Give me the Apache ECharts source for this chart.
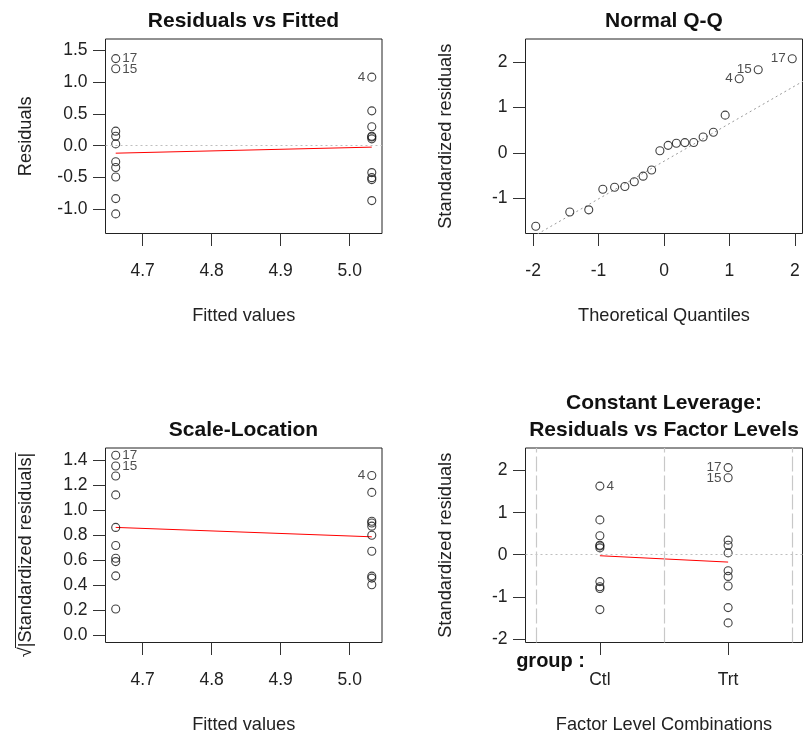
<!DOCTYPE html>
<html><head><meta charset="utf-8">
<script src="https://cdn.jsdelivr.net/npm/echarts@6/dist/echarts.min.js"></script>
<style>html,body{margin:0;padding:0;background:#fff}#c{width:804px;height:736px}</style>
</head><body><div id="c"></div>
<script>
// ---- data (lm diagnostics, 20 observations: Ctl = 1..10, Trt = 11..20) ----
const obsIds = [1,2,3,4,5,6,7,8,9,10,11,12,13,14,15,16,17,18,19,20];
const fittedValues = [5.032,5.032,5.032,5.032,5.032,5.032,5.032,5.032,5.032,5.032,
                      4.661,4.661,4.661,4.661,4.661,4.661,4.661,4.661,4.661,4.661];
const residuals = [-0.862,0.548,0.148,1.078,-0.532,-0.422,0.138,-0.502,0.298,0.108,
                   0.149,-0.491,-0.251,-1.071,1.209,-0.831,1.369,0.229,-0.341,0.029];
const stdResiduals = [-1.305,0.829,0.224,1.632,-0.805,-0.639,0.209,-0.760,0.451,0.163,
                      0.226,-0.743,-0.380,-1.621,1.830,-1.258,2.072,0.347,-0.516,0.044];
const sqrtAbsStdResiduals = [1.142,0.911,0.473,1.277,0.897,0.799,0.457,0.872,0.672,0.404,
                             0.475,0.862,0.616,1.273,1.353,1.122,1.439,0.589,0.718,0.210];
const factorIndex = [0,0,0,0,0,0,0,0,0,0,1,1,1,1,1,1,1,1,1,1];
const factorLevels = ['Ctl','Trt'];
const qqTheoretical = [-1.960,-1.440,-1.150,-0.935,-0.755,-0.598,-0.454,-0.319,-0.189,-0.063,
                       0.063,0.189,0.319,0.454,0.598,0.755,0.935,1.150,1.440,1.960];
const qqSample = [-1.621,-1.305,-1.258,-0.805,-0.760,-0.743,-0.639,-0.516,-0.380,0.044,
                  0.163,0.209,0.224,0.226,0.347,0.451,0.829,1.632,1.830,2.072];
const qqIds = [14,1,16,5,8,12,6,19,13,20,10,7,3,11,18,9,2,4,15,17];
const qqLineX = [-2.2, 2.2];
const qqLineY = [-2.013, 1.639];
const smoothFittedX = [4.661, 5.032];
const smoothResidY = [-0.117, -0.022];
const smoothScaleY = [0.862, 0.787];
const smoothFactorX = [0, 1];
const smoothFactorY = [-0.024, -0.175];
const labeledIds = [17, 15, 4];
const factorBoundaries = [-0.5, 0.5, 1.5];
const ticksFitted = [4.7, 4.8, 4.9, 5.0];
const ticksResid = [-1.0, -0.5, 0.0, 0.5, 1.0, 1.5];
const ticksQQx = [-2, -1, 0, 1, 2];
const ticksStdQQ = [-1, 0, 1, 2];
const ticksSqrt = [0.0, 0.2, 0.4, 0.6, 0.8, 1.0, 1.2, 1.4];
const ticksStdLev = [-2, -1, 0, 1, 2];
const ticksFactor = [0, 1];

// ---- styling / layout ----
const FONT = 'Liberation Sans, Arial, sans-serif';
const TXT = '#222';
const NAME_SIZE = 18.2;
const grids = [
  {left: 105.5, top: 39, width: 276.5, height: 194.5},
  {left: 525.5, top: 39, width: 277, height: 194.5},
  {left: 105.5, top: 448, width: 276.5, height: 194.5},
  {left: 525.5, top: 448, width: 277, height: 194.5}
];
const ranges = {
  x: [[4.6462, 5.0468], [-2.1168, 2.1168], [4.6462, 5.0468], [-0.58, 1.58]],
  y: [[-1.3794, 1.6774], [-1.7798, 2.5078], [-0.0576, 1.4966], [-2.0878, 2.5388]]
};

function xAxis(i, ticks, fmt, name) {
  return {
    type: 'value', gridIndex: i, min: ranges.x[i][0], max: ranges.x[i][1], position: 'bottom',
    axisLine: {show: false, onZero: false},
    axisTick: {show: true, inside: false, length: 12.5, customValues: ticks, lineStyle: {color: '#333', width: 1}},
    axisLabel: {show: true, customValues: ticks, formatter: fmt, margin: 29, color: TXT, fontSize: 17.5, fontFamily: FONT},
    splitLine: {show: false},
    name: name, nameLocation: 'middle', nameGap: 73,
    nameTextStyle: {color: TXT, fontSize: NAME_SIZE, fontFamily: FONT}
  };
}
function yAxis(i, ticks, fmt, name) {
  return {
    type: 'value', gridIndex: i, min: ranges.y[i][0], max: ranges.y[i][1], position: 'left',
    axisLine: {show: false, onZero: false},
    axisTick: {show: true, inside: false, length: 12.5, customValues: ticks, lineStyle: {color: '#333', width: 1}},
    axisLabel: {show: true, customValues: ticks, formatter: fmt, margin: 18, color: TXT, fontSize: 17.5, fontFamily: FONT},
    splitLine: {show: false},
    name: name, nameLocation: 'middle', nameGap: 70.5, nameRotate: 90,
    nameTextStyle: {color: TXT, fontSize: NAME_SIZE, fontFamily: FONT}
  };
}
const f1 = v => Number(v).toFixed(1);
const f0 = v => String(Math.round(v));

function points(xs, ys, ids, panel) {
  const mid = (ranges.x[panel][0] + ranges.x[panel][1]) / 2;
  return ids.map((id, k) => {
    const item = {value: [xs[k], ys[k]]};
    if (labeledIds.indexOf(id) >= 0) {
      item.label = {show: true, formatter: String(id), position: xs[k] < mid ? 'right' : 'left',
        distance: 2, color: TXT, fontSize: 13.5, fontFamily: FONT};
    }
    return item;
  });
}
function scatter(i, data) {
  return {
    type: 'scatter', xAxisIndex: i, yAxisIndex: i, data: data, symbol: 'circle', symbolSize: 8,
    itemStyle: {color: 'rgba(0,0,0,0)', borderColor: '#111', borderWidth: 1.1},
    label: {show: false}, silent: true, animation: false, z: 3
  };
}
function line(i, xs, ys, color, type) {
  return {
    type: 'line', xAxisIndex: i, yAxisIndex: i, data: xs.map((x, k) => [x, ys[k]]),
    showSymbol: false, symbol: 'none', clip: true, silent: true, animation: false,
    lineStyle: {color: color, width: 1, type: type}, z: 2
  };
}
function hRef(i, yv) {
  return {
    type: 'line', xAxisIndex: i, yAxisIndex: i, data: [], silent: true, animation: false,
    markLine: {silent: true, symbol: 'none', animation: false, label: {show: false},
      lineStyle: {color: '#bebebe', width: 1, type: [2, 3]}, data: [{yAxis: yv}]}
  };
}

const option = {
  animation: false,
  backgroundColor: '#fff',
  grid: grids.map(g => Object.assign({show: true, borderColor: '#222', borderWidth: 1, backgroundColor: 'transparent', containLabel: false}, g)),
  xAxis: [
    xAxis(0, ticksFitted, f1, 'Fitted values'),
    xAxis(1, ticksQQx, f0, 'Theoretical Quantiles'),
    xAxis(2, ticksFitted, f1, 'Fitted values'),
    xAxis(3, ticksFactor, v => factorLevels[Math.round(v)], 'Factor Level Combinations')
  ],
  yAxis: [
    yAxis(0, ticksResid, f1, 'Residuals'),
    yAxis(1, ticksStdQQ, f0, 'Standardized residuals'),
    yAxis(2, ticksSqrt, f1, ''),
    yAxis(3, ticksStdLev, f0, 'Standardized residuals')
  ],
  series: [
    // Panel 1: Residuals vs Fitted
    hRef(0, 0),
    line(0, smoothFittedX, smoothResidY, '#ff0000', 'solid'),
    scatter(0, points(fittedValues, residuals, obsIds, 0)),
    // Panel 2: Normal Q-Q
    line(1, qqLineX, qqLineY, '#9a9a9a', [2, 3]),
    scatter(1, points(qqTheoretical, qqSample, qqIds, 1)),
    // Panel 3: Scale-Location
    line(2, smoothFittedX, smoothScaleY, '#ff0000', 'solid'),
    scatter(2, points(fittedValues, sqrtAbsStdResiduals, obsIds, 2)),
    // Panel 4: Constant leverage
    hRef(3, 0),
    {
      type: 'line', xAxisIndex: 3, yAxisIndex: 3, data: [], silent: true, animation: false,
      markLine: {silent: true, symbol: 'none', animation: false, label: {show: false},
        lineStyle: {color: '#c8c8c8', width: 1.2, type: [15, 4]},
        data: factorBoundaries.map(v => ({xAxis: v}))}
    },
    line(3, smoothFactorX, smoothFactorY, '#ff0000', 'solid'),
    scatter(3, points(factorIndex, stdResiduals, obsIds, 3))
  ],
  graphic: [
    {type: 'text', x: 243.5, y: 21, style: {text: 'Residuals vs Fitted', textAlign: 'center', textVerticalAlign: 'middle', font: 'bold 21px ' + FONT, fill: '#111'}},
    {type: 'text', x: 664, y: 21, style: {text: 'Normal Q-Q', textAlign: 'center', textVerticalAlign: 'middle', font: 'bold 21px ' + FONT, fill: '#111'}},
    {type: 'text', x: 243.5, y: 430, style: {text: 'Scale-Location', textAlign: 'center', textVerticalAlign: 'middle', font: 'bold 21px ' + FONT, fill: '#111'}},
    {type: 'text', x: 664, y: 403, style: {text: 'Constant Leverage:', textAlign: 'center', textVerticalAlign: 'middle', font: 'bold 21px ' + FONT, fill: '#111'}},
    {type: 'text', x: 664, y: 430, style: {text: 'Residuals vs Factor Levels', textAlign: 'center', textVerticalAlign: 'middle', font: 'bold 21px ' + FONT, fill: '#111'}},
    {type: 'text', x: 585, y: 661, style: {text: 'group :', textAlign: 'right', textVerticalAlign: 'middle', font: 'bold 20px ' + FONT, fill: '#111'}},
    // Scale-Location y label: sqrt(|Standardized residuals|)
    {type: 'text', x: 26, y: 555, rotation: Math.PI / 2,
     style: {text: '\u221A|Standardized residuals|', textAlign: 'center', textVerticalAlign: 'middle', font: NAME_SIZE + 'px ' + FONT, fill: TXT}},
    {type: 'line', shape: {x1: 15.5, y1: 452.5, x2: 15.5, y2: 648}, style: {stroke: TXT, lineWidth: 1}, silent: true}
  ]
};
const chart = echarts.init(document.getElementById('c'), null, {renderer: 'canvas'});
chart.setOption(option);
</script></body></html>
